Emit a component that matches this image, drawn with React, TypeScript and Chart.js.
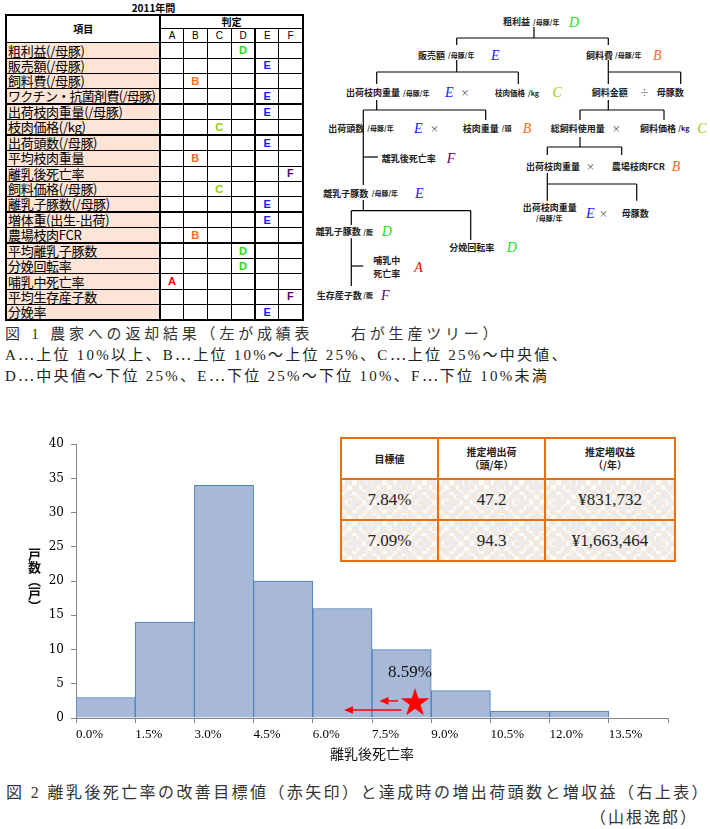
import React, { useEffect, useRef } from 'react';
import { Chart, registerables } from 'chart.js';

Chart.register(...registerables);

// ---------- Fig. 2 histogram data ----------
const binStarts = [0, 1.5, 3.0, 4.5, 6.0, 7.5, 9.0, 10.5, 12.0];
const binWidth = 1.5;
const farmCounts = [3, 14, 34, 20, 16, 10, 4, 1, 1];
const xTickValues = [0, 1.5, 3.0, 4.5, 6.0, 7.5, 9.0, 10.5, 12.0, 13.5, 15.0];
const xTickLabels = ['0.0%', '1.5%', '3.0%', '4.5%', '6.0%', '7.5%', '9.0%', '10.5%', '12.0%', '13.5%', ''];
const yTickValues = [0, 5, 10, 15, 20, 25, 30, 35, 40];
const currentRate = 8.59;
const currentRateLabel = '8.59%';
const currentMarkerLevel = 2.2;
const currentLabelLevel = 6.6;
const arrowFrom = [8.16, 8.25];
const arrowTo = [7.69, 6.79];
const arrowLevel = [2.5, 1.16];
const xAxisTitle = '離乳後死亡率';
const yAxisTitle = '戸数（戸）';

// ---------- inset table ----------
const tableHeaders = [['目標値'], ['推定増出荷', '（頭/年）'], ['推定増収益', '（/年）']];
const targetRates = ['7.84%', '7.09%'];
const extraShipments = ['47.2', '94.3'];
const extraRevenue = ['¥831,732', '¥1,663,464'];

// ---------- Fig. 1 scorecard ----------
const scoreTitle = '2011年間';
const scoreItemHeader = '項目';
const scoreGradeHeader = '判定';
const gradeLetters = ['A', 'B', 'C', 'D', 'E', 'F'];
const scoreItems = [
  '粗利益(/母豚)',
  '販売額(/母豚)',
  '飼料費(/母豚)',
  'ワクチン・抗菌剤費(/母豚)',
  '出荷枝肉重量(/母豚)',
  '枝肉価格(/kg)',
  '出荷頭数(/母豚)',
  '平均枝肉重量',
  '離乳後死亡率',
  '飼料価格(/母豚)',
  '離乳子豚数(/母豚)',
  '増体重(出生-出荷)',
  '農場枝肉FCR',
  '平均離乳子豚数',
  '分娩回転率',
  '哺乳中死亡率',
  '平均生存産子数',
  '分娩率',
];
const scoreGrades = ['D', 'E', 'B', 'E', 'E', 'C', 'E', 'B', 'F', 'C', 'E', 'E', 'B', 'D', 'D', 'A', 'F', 'E'];
const groupLastRows = [3, 5, 10, 12];

// ---------- captions ----------
const caption1 = '図 1 農家への返却結果（左が成績表　　右が生産ツリー）';
const caption1b = 'A…上位 10%以上、B…上位 10%～上位 25%、C…上位 25%～中央値、';
const caption1c = 'D…中央値～下位 25%、E…下位 25%～下位 10%、F…下位 10%未満';
const caption2 = '図 2 離乳後死亡率の改善目標値（赤矢印）と達成時の増出荷頭数と増収益（右上表）';
const caption2b = '（山根逸郎）';

const gradeColor: Record<string, string> = {
  A: '#ff0000',
  B: '#ff6a1a',
  C: '#99cc00',
  D: '#22dd22',
  E: '#1a1aff',
  F: '#660066',
};

const JP = '"Noto Sans CJK JP", "Noto Sans", sans-serif';
const SERIF = '"EllJP", "Liberation Serif", "Noto Sans CJK JP", serif';
const fontFaceCss =
  "@font-face { font-family: 'EllJP'; src: local('Noto Sans CJK JP Regular'), local('NotoSansCJKjp-Regular'), local('Noto Sans CJK JP'); unicode-range: U+2026; }";

function makeStar(R: number, color: string): HTMLCanvasElement {
  const c = document.createElement('canvas');
  const size = Math.ceil(2 * R + 2);
  c.width = size;
  c.height = size;
  const g = c.getContext('2d')!;
  g.fillStyle = color;
  g.beginPath();
  const r = R * 0.382;
  for (let k = 0; k < 10; k++) {
    const rad = k % 2 === 0 ? R : r;
    const a = -Math.PI / 2 + (k * Math.PI) / 5;
    const px = size / 2 + rad * Math.cos(a);
    const py = size / 2 + rad * Math.sin(a);
    if (k === 0) g.moveTo(px, py);
    else g.lineTo(px, py);
  }
  g.closePath();
  g.fill();
  return c;
}

const annotatePlugin = {
  id: 'annotate',
  afterDatasetsDraw(chart: any) {
    const { ctx, scales } = chart;
    const x = scales.x;
    const y = scales.y;
    ctx.save();
    ctx.strokeStyle = '#ff0000';
    ctx.fillStyle = '#ff0000';
    ctx.lineWidth = 1.5;
    arrowFrom.forEach((f, i) => {
      const x0 = x.getPixelForValue(f);
      const x1 = x.getPixelForValue(arrowTo[i]);
      const yy = y.getPixelForValue(arrowLevel[i]);
      const head = 9;
      const half = 3.8;
      ctx.beginPath();
      ctx.moveTo(x0, yy);
      ctx.lineTo(x1 + head - 1, yy);
      ctx.stroke();
      ctx.beginPath();
      ctx.moveTo(x1, yy);
      ctx.lineTo(x1 + head, yy - half);
      ctx.lineTo(x1 + head, yy + half);
      ctx.closePath();
      ctx.fill();
    });
    ctx.fillStyle = '#111';
    ctx.font = '17px "Liberation Serif"';
    ctx.textAlign = 'center';
    ctx.textBaseline = 'middle';
    ctx.fillText(currentRateLabel, x.getPixelForValue(currentRate) - 5, y.getPixelForValue(currentLabelLevel));
    ctx.restore();
  },
};

function Histogram() {
  const ref = useRef<HTMLCanvasElement>(null);
  useEffect(() => {
    if (!ref.current) return;
    const star = makeStar(15, '#ff0000');
    const chart = new Chart(ref.current, {
      type: 'bar',
      data: {
        datasets: [
          {
            type: 'scatter',
            data: [{ x: currentRate, y: currentMarkerLevel }],
            pointStyle: star as any,
            pointRadius: 15,
            order: 0,
          } as any,
          {
            type: 'bar',
            data: binStarts.map((s, i) => ({ x: s + binWidth / 2, y: farmCounts[i] })),
            backgroundColor: '#a7b9d6',
            borderColor: '#4a7ebb',
            borderWidth: 1,
            barPercentage: 1,
            categoryPercentage: 1,
            order: 1,
          } as any,
        ],
      },
      options: {
        animation: false,
        responsive: false,
        events: [],
        layout: { autoPadding: false, padding: { left: 0, right: 42, top: 11.3, bottom: 0 } },
        plugins: { legend: { display: false }, tooltip: { enabled: false } },
        scales: {
          x: {
            type: 'linear',
            min: 0,
            max: 15,
            offset: false,
            afterFit: (s: any) => {
              s.height = 57;
            },
            afterBuildTicks: (axis: any) => {
              axis.ticks = xTickValues.map((v) => ({ value: v }));
            },
            ticks: {
              autoSkip: false,
              maxRotation: 0,
              align: 'start',
              padding: 4,
              color: '#000',
              font: { family: 'Liberation Serif', size: 13 },
              callback: (_v: any, i: number) => xTickLabels[i],
            },
            grid: { drawOnChartArea: false, drawTicks: true, tickLength: 5, color: '#868686', offset: false },
            border: { display: true, color: '#868686', width: 1 },
          },
          y: {
            type: 'linear',
            min: 0,
            max: 40,
            afterFit: (s: any) => {
              s.width = 76;
            },
            afterBuildTicks: (axis: any) => {
              axis.ticks = yTickValues.map((v) => ({ value: v }));
            },
            ticks: {
              padding: 7,
              color: '#000',
              font: { family: 'DejaVu Serif', size: 12 },
            },
            grid: { drawOnChartArea: false, drawTicks: true, tickLength: 5, color: '#868686' },
            border: { display: true, color: '#868686', width: 1 },
          },
        },
      },
      plugins: [annotatePlugin],
    } as any);
    return () => chart.destroy();
  }, []);
  return <canvas ref={ref} width={710} height={345} style={{ position: 'absolute', left: 0, top: 430, width: 710, height: 345 }} />;
}

const cellLine = '1px solid #000';
const thickLine = '2px solid #000';

function Scorecard() {
  const base: React.CSSProperties = {
    padding: 0,
    border: cellLine,
    overflow: 'hidden',
    whiteSpace: 'nowrap',
    verticalAlign: 'middle',
  };
  return (
    <>
      <div
        style={{
          position: 'absolute',
          left: 5,
          top: 1,
          width: 297,
          textAlign: 'center',
          font: `bold 10px ${JP}`,
          lineHeight: '13px',
          color: '#000',
        }}
      >
        {scoreTitle}
      </div>
      <table
        style={{
          position: 'absolute',
          left: 5,
          top: 14,
          width: 297,
          borderCollapse: 'collapse',
          tableLayout: 'fixed',
          border: thickLine,
        }}
      >
        <colgroup>
          <col style={{ width: 154.3 }} />
          <col style={{ width: 23 }} />
          <col style={{ width: 24 }} />
          <col style={{ width: 24 }} />
          <col style={{ width: 24 }} />
          <col style={{ width: 23.4 }} />
          <col style={{ width: 24 }} />
        </colgroup>
        <tbody>
          <tr style={{ height: 13 }}>
            <td
              rowSpan={2}
              style={{ ...base, borderRight: thickLine, textAlign: 'center', font: `bold 10px ${JP}`, lineHeight: '12px' }}
            >
              {scoreItemHeader}
            </td>
            <td colSpan={6} style={{ ...base, textAlign: 'center', font: `bold 10px ${JP}`, lineHeight: '12px' }}>
              {scoreGradeHeader}
            </td>
          </tr>
          <tr style={{ height: 14.4 }}>
            {gradeLetters.map((g, i) => (
              <td
                key={g}
                style={{
                  ...base,
                  borderRight: i === 3 ? thickLine : cellLine,
                  textAlign: 'center',
                  font: `10px "Liberation Sans", ${JP}`,
                  lineHeight: '12px',
                }}
              >
                {g}
              </td>
            ))}
          </tr>
          {scoreItems.map((item, r) => {
            const bb = groupLastRows.includes(r) ? thickLine : cellLine;
            return (
              <tr key={item} style={{ height: 15.3 }}>
                <td
                  style={{
                    ...base,
                    borderRight: thickLine,
                    borderBottom: bb,
                    background: '#fce4d6',
                    font: `13px ${JP}`,
                    lineHeight: '14px',
                    paddingLeft: 1,
                    color: '#000',
                    letterSpacing: item.length > 12 ? -0.7 : -0.3,
                  }}
                >
                  {item}
                </td>
                {gradeLetters.map((g, i) => (
                  <td
                    key={g}
                    style={{
                      ...base,
                      borderBottom: bb,
                      borderRight: i === 3 ? thickLine : cellLine,
                      textAlign: 'center',
                      font: `bold 11px "Liberation Sans", sans-serif`,
                      lineHeight: '13px',
                      color: gradeColor[g],
                    }}
                  >
                    {scoreGrades[r] === g ? g : ''}
                  </td>
                ))}
              </tr>
            );
          })}
        </tbody>
      </table>
    </>
  );
}

type TItem = [string, number, number, string, string?];

function Tree() {
  const lines: [number, number, number, number][] = [
    [534, 27, 534, 38],
    [456.7, 38, 608.3, 38],
    [456.7, 38, 456.7, 45],
    [608.3, 38, 608.3, 45],
    [456.7, 60, 456.7, 72],
    [376.7, 72, 518.3, 72],
    [376.7, 72, 376.7, 84],
    [518.3, 72, 518.3, 84],
    [608.3, 60, 608.3, 84],
    [608.3, 72, 680.7, 72],
    [680.7, 72, 680.7, 84],
    [376.7, 100, 376.7, 110],
    [363.3, 110, 485.7, 110],
    [485.7, 110, 485.7, 120],
    [363.3, 110, 363.3, 185],
    [363.3, 157, 378, 157],
    [608.3, 100, 608.3, 110],
    [580, 110, 664, 110],
    [580, 110, 580, 120],
    [664, 110, 664, 120],
    [580, 137, 580, 147],
    [547.3, 147, 621.7, 147],
    [547.3, 147, 547.3, 155],
    [621.7, 147, 621.7, 155],
    [547.3, 173, 547.3, 200.7],
    [547.3, 184, 636.7, 184],
    [636.7, 184, 636.7, 200.7],
    [363.3, 200, 363.3, 210.7],
    [351.3, 210.7, 470.7, 210.7],
    [351.3, 210.7, 351.3, 225],
    [470.7, 210.7, 470.7, 240],
    [351.3, 238.3, 351.3, 286],
    [351.3, 266, 363.3, 266],
  ];
  const texts: TItem[] = [
    ['粗利益', 503, 21.7, 'm'], ['/母豚/年', 533, 22, 'u'], ['D', 569, 22, 'g', 'D'],
    ['販売額', 418, 55, 'm'], ['/母豚/年', 448, 55, 'u'], ['E', 491, 55, 'g', 'E'],
    ['飼料費', 586, 55, 'm'], ['/母豚/年', 615, 55, 'u'], ['B', 653, 55, 'g', 'B'],
    ['出荷枝肉重量', 346, 92.7, 'm'], ['/母豚/年', 403, 92.7, 'u'], ['E', 445, 92.7, 'g', 'E'], ['×', 460.5, 92.7, 'o'],
    ['枝肉価格', 495, 92.7, 's'], ['/kg', 528, 92.7, 'u'], ['C', 552.5, 92.7, 'g', 'C'],
    ['飼料金額', 591.7, 92.7, 'm'], ['÷', 640, 92.7, 'o'], ['母豚数', 656.7, 92.7, 'm'],
    ['出荷頭数', 328.3, 128.3, 'm'], ['/母豚/年', 367.3, 128.3, 'u'], ['E', 414, 128.3, 'g', 'E'], ['×', 430, 128.3, 'o'],
    ['枝肉重量', 462.7, 128.3, 'm'], ['/頭', 501.7, 128.3, 'u'], ['B', 522.7, 128.3, 'g', 'B'],
    ['総飼料使用量', 550.7, 128.3, 'm'], ['×', 611.7, 128.3, 'o'], ['飼料価格', 640, 128.3, 'm'], ['/kg', 678.3, 128.3, 'u'], ['C', 697.3, 128.3, 'g', 'C'],
    ['離乳後死亡率', 381.7, 158, 'm'], ['F', 446.7, 158, 'g', 'F'],
    ['出荷枝肉重量', 526, 166.7, 'm'], ['×', 586, 166.7, 'o'], ['農場枝肉FCR', 611.7, 166.7, 'm'], ['B', 671.7, 166.7, 'g', 'B'],
    ['離乳子豚数', 323.3, 193.3, 'm'], ['/母豚/年', 371.7, 193.3, 'u'], ['E', 415, 193.3, 'g', 'E'],
    ['出荷枝肉重量', 522.7, 207.3, 'm'], ['/母豚/年', 536, 218.3, 'u'], ['E', 586, 213.3, 'g', 'E'], ['×', 599, 213.3, 'o'], ['母豚数', 621.7, 213.3, 'm'],
    ['離乳子豚数', 315.7, 231.7, 'm'], ['/腹', 363.3, 231.7, 'u'], ['D', 381.7, 231.7, 'g', 'D'],
    ['分娩回転率', 449.3, 247.3, 'm'], ['D', 506.7, 247.3, 'g', 'D'],
    ['哺乳中', 373.3, 260, 'm'], ['死亡率', 373.3, 273.3, 'm'], ['A', 414.3, 267.7, 'g', 'A'],
    ['生存産子数', 316.7, 295, 'm'], ['/腹', 363.3, 295, 'u'], ['F', 381, 295, 'g', 'F'],
  ];
  const styleFor = (k: string, g?: string): React.CSSProperties => {
    if (k === 'g') return { font: `italic 14px "Liberation Serif", serif`, fill: gradeColor[g || 'A'] };
    if (k === 'u') return { font: `bold 7px ${JP}`, fill: '#222' };
    if (k === 's') return { font: `bold 7.5px ${JP}`, fill: '#222' };
    if (k === 'o') return { font: `9px ${JP}`, fill: '#444' };
    return { font: `bold 9px ${JP}`, fill: '#222' };
  };
  return (
    <svg width={710} height={320} style={{ position: 'absolute', left: 0, top: 0 }}>
      {lines.map((l, i) => (
        <line key={i} x1={l[0]} y1={l[1]} x2={l[2]} y2={l[3]} stroke="#000" strokeWidth={1.2} />
      ))}
      {texts.map((t, i) => (
        <text key={i} x={t[1]} y={t[2]} dominantBaseline="central" style={styleFor(t[3], t[4])}>
          {t[0]}
        </text>
      ))}
    </svg>
  );
}

const orange = '#e5700f';

function InsetTable() {
  const cellBase: React.CSSProperties = {
    border: `2px solid ${orange}`,
    padding: 0,
    textAlign: 'center',
    verticalAlign: 'middle',
  };
  const pattern: React.CSSProperties = {
    backgroundColor: '#fdfbf8',
    backgroundImage:
      'repeating-conic-gradient(#f3e9de 0% 25%, transparent 0% 50%), repeating-conic-gradient(#e9edf3 0% 25%, transparent 0% 50%)',
    backgroundSize: '10px 10px, 14px 14px',
    backgroundPosition: '0 0, 3px 5px',
  };
  const dataFont: React.CSSProperties = { font: '17px "Liberation Serif", serif', color: '#222', paddingTop: 2 };
  const rows = targetRates.map((r, i) => [r, extraShipments[i], extraRevenue[i]]);
  return (
    <table
      style={{
        position: 'absolute',
        left: 340,
        top: 437,
        width: 334,
        height: 122.5,
        borderCollapse: 'collapse',
        tableLayout: 'fixed',
        background: '#fff',
      }}
    >
      <colgroup>
        <col style={{ width: 97 }} />
        <col style={{ width: 107 }} />
        <col style={{ width: 130 }} />
      </colgroup>
      <tbody>
        <tr style={{ height: 40.6 }}>
          {tableHeaders.map((h, i) => (
            <td key={i} style={{ ...cellBase, font: `bold 10px ${JP}`, lineHeight: '13.5px', color: '#222' }}>
              {h.map((ln, j) => (
                <div key={j}>{ln}</div>
              ))}
            </td>
          ))}
        </tr>
        {rows.map((row, i) => (
          <tr key={i} style={{ height: 41 }}>
            {row.map((v, j) => (
              <td key={j} style={{ ...cellBase, ...pattern, ...dataFont }}>
                {v}
              </td>
            ))}
          </tr>
        ))}
      </tbody>
    </table>
  );
}

export default function App() {
  return (
    <div style={{ position: 'absolute', left: 0, top: 0, width: 710, height: 829, background: '#fff', overflow: 'hidden' }}>
      <style>{fontFaceCss}</style>
      <Scorecard />
      <Tree />
      <div
        style={{
          position: 'absolute',
          left: 5,
          top: 324,
          font: `15px ${SERIF}`,
          letterSpacing: 3.8,
          color: '#333',
          whiteSpace: 'nowrap',
          lineHeight: '20px',
        }}
      >
        {caption1}
      </div>
      <div
        style={{
          position: 'absolute',
          left: 5,
          top: 345,
          font: `15px ${SERIF}`,
          letterSpacing: 2.25,
          color: '#222',
          whiteSpace: 'nowrap',
          lineHeight: '20px',
        }}
      >
        {caption1b}
      </div>
      <div
        style={{
          position: 'absolute',
          left: 5,
          top: 366,
          font: `15px ${SERIF}`,
          letterSpacing: 2.25,
          color: '#222',
          whiteSpace: 'nowrap',
          lineHeight: '20px',
        }}
      >
        {caption1c}
      </div>
      <Histogram />
      <InsetTable />
      <div
        style={{
          position: 'absolute',
          left: 26,
          top: 548,
          writingMode: 'vertical-rl',
          font: `bold 13px ${JP}`,
          color: '#111',
          lineHeight: '16px',
        }}
      >
        {yAxisTitle}
      </div>
      <div
        style={{
          position: 'absolute',
          left: 330,
          top: 744,
          font: `14px ${JP}`,
          color: '#111',
          lineHeight: '18px',
          whiteSpace: 'nowrap',
        }}
      >
        {xAxisTitle}
      </div>
      <div
        style={{
          position: 'absolute',
          left: 6,
          top: 783,
          font: `16px ${SERIF}`,
          letterSpacing: 2.4,
          color: '#333',
          whiteSpace: 'nowrap',
          lineHeight: '20px',
        }}
      >
        {caption2}
      </div>
      <div
        style={{
          position: 'absolute',
          right: 12,
          top: 808,
          font: `16px ${SERIF}`,
          letterSpacing: 2,
          color: '#333',
          whiteSpace: 'nowrap',
          lineHeight: '20px',
        }}
      >
        {caption2b}
      </div>
    </div>
  );
}
